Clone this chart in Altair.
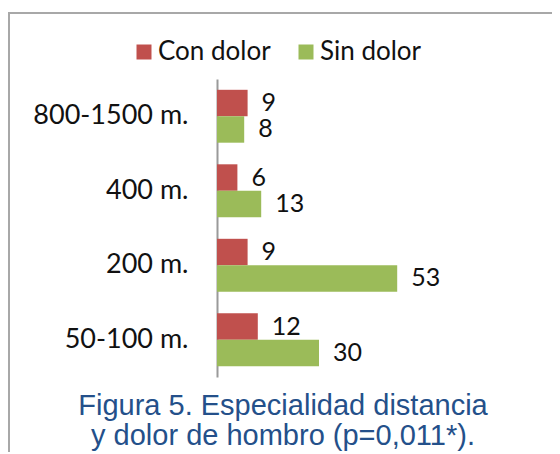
import altair as alt
import pandas as pd

categories = ["800-1500 m.", "400 m.", "200 m.", "50-100 m."]
series = ["Con dolor", "Sin dolor"]
con_dolor = [9, 6, 9, 12]
sin_dolor = [8, 13, 53, 30]
colors = ["#C0504D", "#9BBB59"]
caption = ["Figura 5. Especialidad distancia", "y dolor de hombro (p=0,011*)."]

rows = []
for c, a, b in zip(categories, con_dolor, sin_dolor):
    rows.append({"cat": c, "serie": series[0], "valor": a})
    rows.append({"cat": c, "serie": series[1], "valor": b})
df = pd.DataFrame(rows)

base = alt.Chart(df).encode(
    y=alt.Y(
        "cat:N",
        sort=categories,
        scale=alt.Scale(paddingInner=0.29, paddingOuter=0.145),
        axis=alt.Axis(
            title=None,
            ticks=False,
            domainColor="#9A9A9A",
            domainWidth=2,
            labelFont="Lato",
            labelFontSize=27,
            labelColor="#111111",
            labelPadding=29,
        ),
    ),
    yOffset=alt.YOffset("serie:N", sort=series, scale=alt.Scale(paddingInner=0, paddingOuter=0)),
)

bars = base.mark_bar().encode(
    x=alt.X("valor:Q", scale=alt.Scale(domain=[0, 60], nice=False), axis=None),
    color=alt.Color(
        "serie:N",
        sort=series,
        scale=alt.Scale(domain=series, range=colors),
        legend=alt.Legend(
            title=None,
            orient="none",
            legendX=-86,
            legendY=-40,
            direction="horizontal",
            symbolType="square",
            symbolSize=225,
            symbolStrokeWidth=0,
            labelFont="Lato",
            labelFontSize=26,
            labelColor="#111111",
            labelOffset=1,
            columnPadding=22,
            padding=0,
        ),
    ),
)

labels = base.mark_text(
    align="left", baseline="middle", dx=14, font="Lato", fontSize=25, color="#111111"
).encode(x=alt.X("valor:Q"), text=alt.Text("valor:Q"))

frame = alt.Chart(pd.DataFrame({"a": [0]})).mark_rect(
    fillOpacity=0, stroke="#A8A8A8", strokeWidth=2
).encode(
    x=alt.value(-208), x2=alt.value(400), y=alt.value(-66), y2=alt.value(375)
)

chart = alt.layer(frame, bars, labels).properties(
    width=204,
    height=298,
    autosize=alt.AutoSizeParams(type="none"),
    padding={"left": 209, "top": 71, "right": 131, "bottom": 75},
    title=alt.TitleParams(
        text=caption,
        orient="bottom",
        anchor="middle",
        font="Liberation Sans",
        fontSize=29,
        fontWeight="normal",
        color="#24508A",
        lineHeight=30,
        dx=-36,
        offset=-63,
    ),
).configure_view(stroke=None)

chart.save("out.html", embed_options={"renderer": "svg", "actions": False})
